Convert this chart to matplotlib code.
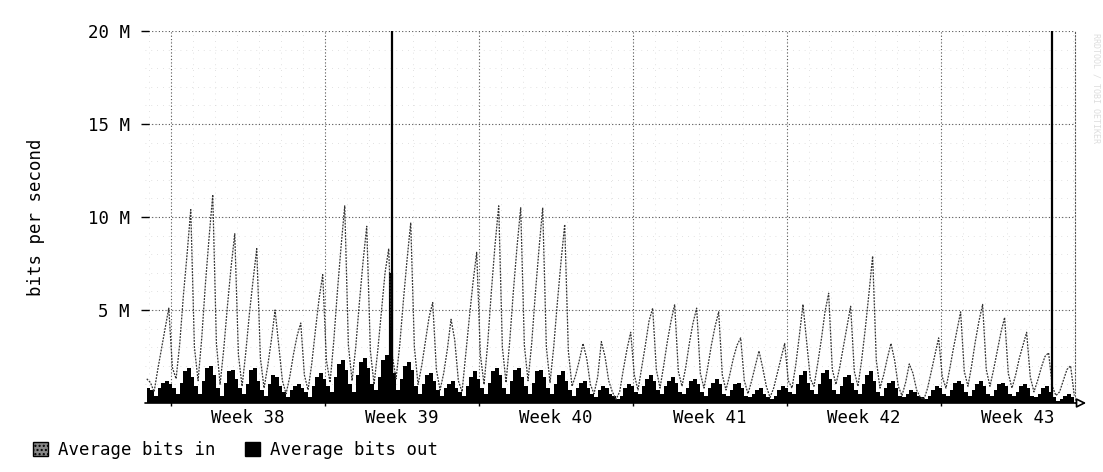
import numpy as np
import matplotlib.pyplot as plt
from matplotlib.patches import Patch

# weekly traffic graph, values in Mbit/s, sampled every 4 hours
# time axis in days, day 0 = start of week 38
t_start = -1.1
step = 1 / 6

in_first = [1.3]
in_days = [
    [1.1, 0.6, 1.8, 2.9, 4.0, 5.1],
    [1.9, 1.3, 3.2, 5.8, 8.0, 10.4],
    [3.0, 1.2, 3.5, 6.4, 8.9, 11.2],
    [3.2, 1.0, 2.9, 5.2, 7.3, 9.1],
    [2.6, 0.9, 2.7, 4.8, 6.6, 8.3],
    [2.4, 0.8, 2.0, 3.4, 5.0, 3.1],
    [1.2, 0.5, 1.4, 2.6, 3.6, 4.3],
    [1.5, 0.7, 2.1, 3.9, 5.6, 6.9],
    [2.3, 1.1, 3.3, 6.0, 8.4, 10.6],
    [3.1, 1.2, 3.0, 5.4, 7.6, 9.5],
    [2.8, 1.0, 2.8, 4.9, 7.0, 8.3],
    [2.5, 1.3, 3.1, 5.5, 7.7, 9.7],
    [3.0, 1.0, 2.0, 3.3, 4.6, 5.4],
    [1.8, 0.7, 1.6, 2.9, 4.5, 3.4],
    [1.2, 0.6, 2.6, 4.6, 6.5, 8.1],
    [2.6, 1.0, 3.2, 6.0, 8.5, 10.6],
    [3.0, 1.1, 3.3, 6.0, 8.4, 10.5],
    [3.1, 1.2, 3.2, 5.9, 8.3, 10.5],
    [3.0, 1.1, 3.0, 5.4, 7.6, 9.6],
    [2.8, 0.9, 1.5, 2.3, 3.2, 2.4],
    [1.0, 0.5, 1.4, 3.3, 2.5, 1.2],
    [0.6, 0.2, 0.6, 1.8, 2.9, 3.8],
    [1.5, 0.7, 1.9, 3.1, 4.4, 5.1],
    [1.8, 0.8, 2.0, 3.3, 4.4, 5.3],
    [1.7, 0.9, 1.9, 3.2, 4.3, 5.1],
    [1.6, 0.8, 1.9, 3.1, 4.1, 4.9],
    [1.5, 0.7, 1.5, 2.4, 3.1, 3.5],
    [1.2, 0.5, 1.2, 2.0, 2.8, 1.9],
    [0.9, 0.3, 0.8, 1.6, 2.4, 3.2],
    [1.2, 0.8, 2.0, 3.6, 5.3, 3.3],
    [1.3, 0.9, 2.1, 3.4, 4.9, 5.9],
    [1.8, 1.0, 1.9, 3.0, 4.1, 5.2],
    [1.7, 0.9, 2.3, 4.0, 5.9, 7.9],
    [2.3, 0.8, 1.5, 2.4, 3.2, 2.3],
    [0.9, 0.4, 1.1, 2.1, 1.6, 0.7],
    [0.3, 0.2, 0.8, 1.7, 2.6, 3.5],
    [1.4, 0.8, 1.8, 2.9, 3.9, 4.9],
    [1.7, 0.9, 2.0, 3.3, 4.4, 5.3],
    [1.8, 0.9, 1.8, 2.8, 3.8, 4.6],
    [1.6, 0.8, 1.5, 2.4, 3.1, 3.8],
    [1.4, 0.6, 1.2, 1.9, 2.5, 2.7],
    [0.9, 0.4, 0.6, 1.2, 1.8, 2.0],
]
in_last = [0.4]

out_first = [0.8]
out_days = [
    [0.7, 0.4, 0.8, 1.1, 1.2, 1.0],
    [0.8, 0.5, 1.1, 1.7, 1.9, 1.4],
    [0.9, 0.5, 1.2, 1.9, 2.0, 1.5],
    [0.8, 0.4, 1.1, 1.7, 1.8, 1.3],
    [0.8, 0.5, 1.0, 1.8, 1.9, 1.2],
    [0.7, 0.4, 1.0, 1.5, 1.4, 0.9],
    [0.6, 0.3, 0.7, 0.9, 1.0, 0.8],
    [0.6, 0.3, 0.9, 1.4, 1.6, 1.3],
    [0.9, 0.6, 1.4, 2.1, 2.3, 1.8],
    [1.0, 0.6, 1.5, 2.2, 2.4, 1.9],
    [1.0, 0.7, 1.4, 2.3, 2.6, 2.2],
    [1.6, 0.7, 1.3, 2.0, 2.2, 1.8],
    [0.9, 0.5, 1.0, 1.5, 1.6, 1.2],
    [0.7, 0.4, 0.8, 1.0, 1.2, 0.8],
    [0.6, 0.4, 0.9, 1.4, 1.7, 1.3],
    [0.8, 0.5, 1.1, 1.7, 1.9, 1.5],
    [0.8, 0.5, 1.2, 1.8, 1.9, 1.4],
    [0.9, 0.5, 1.1, 1.7, 1.8, 1.4],
    [0.8, 0.5, 1.0, 1.5, 1.7, 1.2],
    [0.7, 0.4, 0.8, 1.1, 1.2, 0.8],
    [0.5, 0.3, 0.7, 0.9, 0.8, 0.5],
    [0.4, 0.2, 0.4, 0.8, 1.0, 0.9],
    [0.6, 0.5, 0.9, 1.3, 1.5, 1.2],
    [0.7, 0.5, 0.9, 1.2, 1.4, 1.1],
    [0.6, 0.5, 0.8, 1.2, 1.3, 1.0],
    [0.6, 0.4, 0.8, 1.1, 1.3, 1.0],
    [0.5, 0.4, 0.7, 1.0, 1.1, 0.8],
    [0.4, 0.3, 0.5, 0.7, 0.8, 0.5],
    [0.3, 0.2, 0.4, 0.7, 0.9, 0.8],
    [0.6, 0.5, 1.0, 1.5, 1.7, 1.1],
    [0.7, 0.5, 1.0, 1.6, 1.8, 1.3],
    [0.7, 0.5, 0.9, 1.4, 1.5, 1.1],
    [0.7, 0.5, 1.0, 1.5, 1.7, 1.2],
    [0.6, 0.4, 0.8, 1.1, 1.2, 0.8],
    [0.4, 0.3, 0.5, 0.7, 0.6, 0.4],
    [0.3, 0.2, 0.4, 0.7, 0.9, 0.8],
    [0.5, 0.4, 0.7, 1.1, 1.2, 1.0],
    [0.6, 0.4, 0.7, 1.0, 1.2, 0.9],
    [0.5, 0.4, 0.7, 1.0, 1.1, 0.9],
    [0.5, 0.4, 0.6, 0.9, 1.0, 0.8],
    [0.4, 0.3, 0.5, 0.8, 0.9, 0.6],
    [0.3, 0.1, 0.2, 0.4, 0.5, 0.3],
]
out_last = [0.2]

# single-sample spikes
spike_days = [10.05, 40.05]
spike_in = [20.0, 20.0]
out_spike_days = [10.0]
out_spike_vals = [7.0]

weeks = [38, 39, 40, 41, 42, 43]
y_ticks = [5, 10, 15, 20]
y_labels = ["5 M", "10 M", "15 M", "20 M"]

bits_in = np.array(in_first + [v for d in in_days for v in d] + in_last)
bits_out = np.array(out_first + [v for d in out_days for v in d] + out_last)
t = t_start + np.arange(len(bits_in)) * step

FONT = "DejaVu Sans Mono"
FS = 12.5

fig = plt.figure(figsize=(11.03, 4.72), dpi=100)
ax = fig.add_axes([145 / 1103, 1 - 403 / 472, 930 / 1103, 372 / 472])

ax.set_xlim(-1.18, 41.1)
ax.set_ylim(0, 20)

# grid: faint daily / 1M, darker weekly / 5M
for d in range(-1, 42):
    ax.axvline(d, color="#d8d8d8", lw=0.6, ls=(0, (1, 6)), zorder=0)
for v in range(1, 20):
    ax.axhline(v, color="#d8d8d8", lw=0.6, ls=(0, (1, 6)), zorder=0)
week_starts = [7 * i for i in range(len(weeks))]
for w in week_starts:
    ax.axvline(w, color="#555555", lw=0.8, ls=(0, (1, 2)), zorder=0)
for v in y_ticks:
    ax.axhline(v, color="#555555", lw=0.8, ls=(0, (1, 2)), zorder=0)

ax.fill_between(t, bits_out, step="post", color="black", lw=0, zorder=2)
ax.vlines(out_spike_days, 0, out_spike_vals, color="black", lw=3, zorder=2)
ax.plot(t, bits_in, color="#333333", lw=0.9, ls=(0, (1.5, 1)), zorder=3)
ax.vlines(spike_days, 0, spike_in, color="black", lw=1.6, zorder=3)

for s in ["top", "left", "bottom"]:
    ax.spines[s].set_visible(False)
ax.spines["right"].set_linestyle((0, (1, 2)))
ax.spines["right"].set_color("#555555")
ax.spines["right"].set_linewidth(0.8)

ax.annotate("", xy=(1.015, 0), xytext=(-0.003, 0), xycoords="axes fraction",
            arrowprops=dict(arrowstyle="-|>", color="black", lw=1.2,
                            fc="white", mutation_scale=14),
            annotation_clip=False)

ax.set_yticks(y_ticks, y_labels, fontfamily=FONT, fontsize=FS)
ax.tick_params(axis="y", direction="inout", length=6, width=1, pad=8)
ax.set_xticks(week_starts)
ax.set_xticklabels([])
ax.tick_params(axis="x", direction="inout", length=5, width=1)
ax.set_xticks([w + 3.5 for w in week_starts], minor=True)
ax.set_xticklabels([f"Week {w}" for w in weeks], minor=True,
                   fontfamily=FONT, fontsize=FS)
ax.tick_params(axis="x", which="minor", length=0, pad=4)

ax.set_ylabel("bits per second", fontfamily=FONT, fontsize=FS, labelpad=31)

handles = [Patch(facecolor="#888888", edgecolor="black", hatch="....", lw=1),
           Patch(facecolor="black", edgecolor="black")]
fig.legend(handles, ["Average bits in", "Average bits out"], loc="center left",
           bbox_to_anchor=(33 / 1103, 1 - 450 / 472), ncol=2, frameon=False,
           prop={"family": FONT, "size": FS}, handlelength=0.85,
           handleheight=0.85, handletextpad=0.6, columnspacing=1.7,
           borderpad=0, borderaxespad=0)

fig.text(0.994, 0.93, "RRDTOOL / TOBI OETIKER", rotation=270, va="top",
         ha="center", color="#dddddd", fontsize=6, fontfamily=FONT)

fig.savefig("out.png", dpi=100, facecolor="white")
